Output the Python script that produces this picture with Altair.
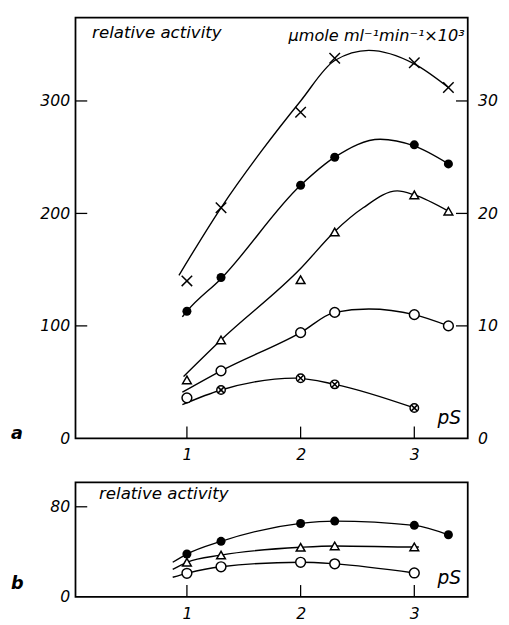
import altair as alt
import pandas as pd

# ---------------- data ----------------
# panel a: measured points
PS = [1.0, 1.3, 2.0, 2.3, 3.0, 3.3]
A_CROSS = [140, 205, 290, 338, 334, 312]
A_FILLED = [113, 143, 225, 250, 261, 244]
A_TRI = [52, 87.5, 141, 183.5, 216.5, 202]
A_OPEN = [36, 60, 94, 112, 110, 100]
A_OTIMES_PS = [1.3, 2.0, 2.3, 3.0]
A_OTIMES = [43, 53.5, 48, 27]

# panel a: drawn curves (knots)
CA_X_PS = [0.93, 1.3, 1.66, 2.0, 2.3, 2.6, 3.0, 3.3]
CA_X_V = [145, 205, 256, 300, 336, 345, 333, 312]
CA_F_PS = [0.96, 1.0, 1.3, 2.0, 2.3, 2.7, 3.0, 3.3]
CA_F_V = [108, 113, 142, 225, 250, 266, 260, 244]
CA_T_PS = [0.97, 1.3, 2.0, 2.3, 2.55, 2.85, 3.0, 3.3]
CA_T_V = [55, 87.5, 151, 184, 205, 220, 216.5, 202]
CA_O_PS = [0.96, 1.3, 2.0, 2.3, 2.6, 3.0, 3.3]
CA_O_V = [41, 60, 94, 112, 115, 110, 100]
CA_C_PS = [0.96, 1.3, 1.95, 2.3, 3.0]
CA_C_V = [30, 43, 53.5, 48, 27]

# panel b: measured points
B_PS = [1.0, 1.3, 2.0, 2.3, 3.0, 3.3]
B_FILLED = [38, 49.3, 65.2, 67.3, 63.5, 55.1]
B_PS5 = [1.0, 1.3, 2.0, 2.3, 3.0]
B_TRI = [30.7, 37.1, 44, 45.2, 44.3]
B_OPEN = [20.9, 26.7, 30.7, 29.3, 21.2]

# panel b: drawn curves
CB_F_PS = [0.875, 1.0, 1.3, 2.0, 2.3, 3.0, 3.3]
CB_F_V = [30.7, 38, 49.3, 65.2, 67.3, 63.5, 55.1]
CB_T_PS = [0.875, 1.0, 1.3, 2.0, 2.3, 3.0, 3.04]
CB_T_V = [24.4, 30.7, 37.1, 44, 45.2, 44.3, 44.3]
CB_O_PS = [0.875, 1.0, 1.3, 2.0, 2.3, 3.0]
CB_O_V = [17.4, 20.9, 26.7, 30.7, 29.3, 21.2]

X_TICKS = [1, 2, 3]
A_Y_TICKS = [0, 100, 200, 300]
B_Y_TICKS = [0, 80]

# ---------------- styling ----------------
W, HA, HB = 401, 430, 117
FONT = "DejaVu Sans"
TICK = 12

xs = alt.Scale(domain=[0.02, 3.47], nice=False, zero=False)
ya = alt.Scale(domain=[0, 374], nice=False)
yb = alt.Scale(domain=[0, 101.7], nice=False)

xaxis = alt.Axis(values=X_TICKS, ticks=False, domain=False, grid=False, title=None,
                 labelFont=FONT, labelFontSize=16, labelFontStyle="italic",
                 labelColor="black", labelPadding=9, format="d")


def yaxis(vals, orient="left", expr=None, pad=6):
    kw = dict(values=vals, ticks=False, domain=False, grid=False, title=None,
              labelFont=FONT, labelFontSize=16, labelFontStyle="italic",
              labelColor="black", labelPadding=pad, orient=orient, format="d")
    if expr:
        kw["labelExpr"] = expr
    return alt.Axis(**kw)


X = alt.X("ps:Q", scale=xs, axis=xaxis)

CROSS = "M-1,-1L1,1M-1,1L1,-1"
OTIMES = "M-1,0A1,1,0,1,1,1,0A1,1,0,1,1,-1,0ZM-0.62,-0.62L0.62,0.62M-0.62,0.62L0.62,-0.62"


def curve(ps, vals, ys):
    df = pd.DataFrame({"ps": ps, "v": vals})
    return alt.Chart(df).mark_line(interpolate="monotone", color="black", strokeWidth=1.4).encode(
        x=X, y=alt.Y("v:Q", scale=ys, axis=None))


def pts(ps, vals, ys, **mk):
    df = pd.DataFrame({"ps": ps, "v": vals})
    return alt.Chart(df).mark_point(**mk).encode(x=X, y=alt.Y("v:Q", scale=ys, axis=None))


def label(txt, x, y, size=16, align="left", baseline="alphabetic", weight="normal"):
    df = pd.DataFrame({"t": [txt]})
    return alt.Chart(df).mark_text(font=FONT, fontSize=size, fontStyle="italic", fontWeight=weight,
                                   align=align, baseline=baseline, color="black").encode(
        x=alt.value(x), y=alt.value(y), text="t:N")


def xticks(h):
    df = pd.DataFrame({"ps": X_TICKS})
    return alt.Chart(df).mark_rule(color="black", strokeWidth=1.3).encode(
        x=X, y=alt.value(h), y2=alt.value(h - TICK))


def left_ticks(vals, ys, axis):
    df = pd.DataFrame({"v": vals})
    return alt.Chart(df).mark_rule(color="black", strokeWidth=1.3).encode(
        y=alt.Y("v:Q", scale=ys, axis=axis), x=alt.value(0), x2=alt.value(TICK))


def right_ticks(vals, ys, axis):
    df = pd.DataFrame({"v": vals})
    return alt.Chart(df).mark_rule(color="black", strokeWidth=1.3).encode(
        y=alt.Y("v:Q", scale=ys, axis=axis), x=alt.value(W - TICK), x2=alt.value(W))


open_style = dict(fill="white", stroke="black", strokeWidth=1.5, opacity=1, fillOpacity=1)

panel_a = alt.layer(
    left_ticks(A_Y_TICKS[1:], ya, yaxis(A_Y_TICKS, "left", pad=6)),
    right_ticks(A_Y_TICKS[1:], ya, yaxis(A_Y_TICKS, "right", expr="datum.value / 10", pad=10)),
    xticks(HA),
    curve(CA_X_PS, CA_X_V, ya),
    curve(CA_F_PS, CA_F_V, ya),
    curve(CA_T_PS, CA_T_V, ya),
    curve(CA_O_PS, CA_O_V, ya),
    curve(CA_C_PS, CA_C_V, ya),
    pts(PS, A_CROSS, ya, shape=CROSS, size=115, filled=False, color="black", strokeWidth=1.5, opacity=1),
    pts(PS, A_FILLED, ya, shape="circle", size=85, filled=True, color="black", opacity=1),
    pts(PS, A_TRI, ya, shape="triangle-up", size=80, **open_style),
    pts(PS, A_OPEN, ya, shape="circle", size=100, **open_style),
    pts(A_OTIMES_PS, A_OTIMES, ya, shape=OTIMES, size=75, **open_style),
    label("relative activity", 17, 21, size=17),
    label("\u00b5mole ml\u207b\u00b9min\u207b\u00b9\u00d710\u00b3", 398, 24, size=16.5, align="right"),
    label("pS", 370, 409, size=19, baseline="middle"),
    label("a", -66, 426, size=18, baseline="middle", weight="bold"),
).resolve_axis(y="independent").properties(width=W, height=HA)

panel_b = alt.layer(
    left_ticks([80], yb, yaxis(B_Y_TICKS, "left", pad=6)),
    xticks(HB),
    curve(CB_F_PS, CB_F_V, yb),
    curve(CB_T_PS, CB_T_V, yb),
    curve(CB_O_PS, CB_O_V, yb),
    pts(B_PS, B_FILLED, yb, shape="circle", size=85, filled=True, color="black", opacity=1),
    pts(B_PS5, B_TRI, yb, shape="triangle-up", size=80, **open_style),
    pts(B_PS5, B_OPEN, yb, shape="circle", size=100, **open_style),
    label("relative activity", 24, 17, size=17),
    label("pS", 370, 98, size=19, baseline="middle"),
    label("b", -66, 104, size=18, baseline="middle", weight="bold"),
).resolve_axis(y="independent").properties(width=W, height=HB)

chart = alt.vconcat(panel_a, panel_b, spacing=45, bounds="flush").properties(
    padding={"left": 2, "top": 2, "right": 2, "bottom": 2},
    background="white",
).configure_view(stroke="black", strokeWidth=1.8)

chart.save("out.html", embed_options={"renderer": "svg", "actions": False})
